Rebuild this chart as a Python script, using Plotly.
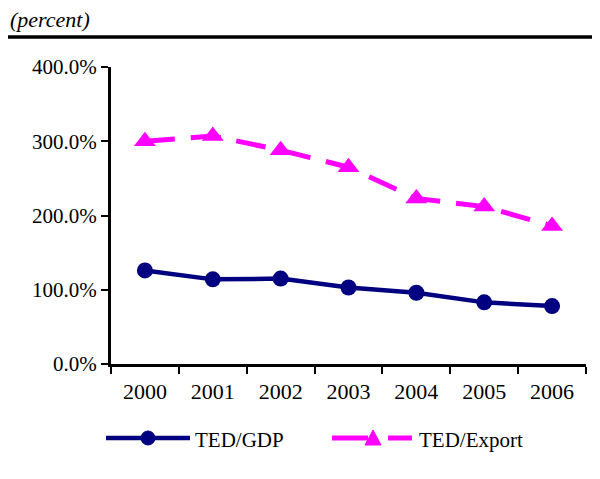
import plotly.graph_objects as go

# =============================================================================
# DATA
# =============================================================================

YEARS = ["2000", "2001", "2002", "2003", "2004", "2005", "2006"]
TED_GDP = [126, 114, 115, 103, 96, 83, 78]
TED_EXPORT = [300, 307, 288, 265, 223, 212, 186]

Y_TICKS = [0, 100, 200, 300, 400]
Y_TICK_LABELS = ["0.0%", "100.0%", "200.0%", "300.0%", "400.0%"]

# =============================================================================
# CONFIG VISUAL
# =============================================================================

COLOR_NAVY = "#000080"
COLOR_MAGENTA = "#FF00FF"
FONT = "'Liberation Serif', 'DejaVu Serif', serif"

# plot area in page pixels (the page body adds an 8px offset)
OFFSET = 8
PLOT_L, PLOT_R, PLOT_T, PLOT_B = 111, 586, 67, 364


def px(x):
    return (x - PLOT_L) / (PLOT_R - PLOT_L)


def py(y):
    return (PLOT_B - y) / (PLOT_B - PLOT_T)


fig = go.Figure()

fig.add_trace(go.Scatter(
    x=YEARS, y=TED_GDP, name="TED/GDP", mode="lines+markers",
    line=dict(color=COLOR_NAVY, width=4.5),
    marker=dict(symbol="circle", size=16, color=COLOR_NAVY),
))

fig.add_trace(go.Scatter(
    x=YEARS, y=TED_EXPORT, name="TED/Export", mode="lines+markers",
    line=dict(color=COLOR_MAGENTA, width=5, dash="30px,16px"),
    marker=dict(symbol="triangle-up", size=19, color=COLOR_MAGENTA),
))

# ----- legend drawn by hand (long Excel-style symbols)
shapes = [
    # thick rule under "(percent)"
    dict(type="line", xref="paper", yref="paper",
         x0=px(OFFSET), x1=px(600 + OFFSET), y0=py(37), y1=py(37),
         line=dict(color="black", width=3.5)),
    dict(type="line", xref="paper", yref="paper",
         x0=px(106), x1=px(190), y0=py(438), y1=py(438),
         line=dict(color=COLOR_NAVY, width=4.5)),
    dict(type="circle", xref="paper", yref="paper",
         x0=px(141), x1=px(155), y0=py(431), y1=py(445),
         fillcolor=COLOR_NAVY, line=dict(color=COLOR_NAVY, width=1)),
    dict(type="line", xref="paper", yref="paper",
         x0=px(332), x1=px(368), y0=py(438), y1=py(438),
         line=dict(color=COLOR_MAGENTA, width=5)),
    dict(type="path", xref="paper", yref="paper",
         path=f"M {px(365)} {py(445)} L {px(381)} {py(445)} L {px(373)} {py(430)} Z",
         fillcolor=COLOR_MAGENTA, line=dict(color=COLOR_MAGENTA, width=1)),
    dict(type="line", xref="paper", yref="paper",
         x0=px(388), x1=px(412), y0=py(438), y1=py(438),
         line=dict(color=COLOR_MAGENTA, width=5)),
]

annotations = [
    dict(text="<i>(percent)</i>", xref="paper", yref="paper",
         x=px(8), y=py(20), xanchor="left", yanchor="middle",
         showarrow=False, font=dict(family=FONT, size=22, color="black")),
    dict(text="TED/GDP", xref="paper", yref="paper",
         x=px(193), y=py(440), xanchor="left", yanchor="middle",
         showarrow=False, font=dict(family=FONT, size=21, color="black")),
    dict(text="TED/Export", xref="paper", yref="paper",
         x=px(417), y=py(440), xanchor="left", yanchor="middle",
         showarrow=False, font=dict(family=FONT, size=21, color="black")),
]

fig.update_layout(
    width=600,
    height=479,
    margin=dict(l=PLOT_L - OFFSET, r=600 + OFFSET - PLOT_R,
                t=PLOT_T - OFFSET, b=479 + OFFSET - PLOT_B),
    paper_bgcolor="white",
    plot_bgcolor="white",
    showlegend=False,
    font=dict(family=FONT, size=21, color="black"),
    shapes=shapes,
    annotations=annotations,
    xaxis=dict(
        type="category", range=[-0.5, 6.5], tickson="boundaries",
        ticks="outside", ticklen=7, tickwidth=2, tickcolor="black",
        showline=True, linecolor="black", linewidth=3,
        showgrid=False, zeroline=False, ticklabelstandoff=6,
        tickfont=dict(family=FONT, size=22),
    ),
    yaxis=dict(
        range=[0, 400], tickvals=Y_TICKS, ticktext=Y_TICK_LABELS,
        ticks="outside", ticklen=7, tickwidth=2, tickcolor="black",
        showline=True, linecolor="black", linewidth=3,
        showgrid=False, zeroline=False,
        tickfont=dict(family=FONT, size=21),
    ),
)

fig.write_html("out.html")
